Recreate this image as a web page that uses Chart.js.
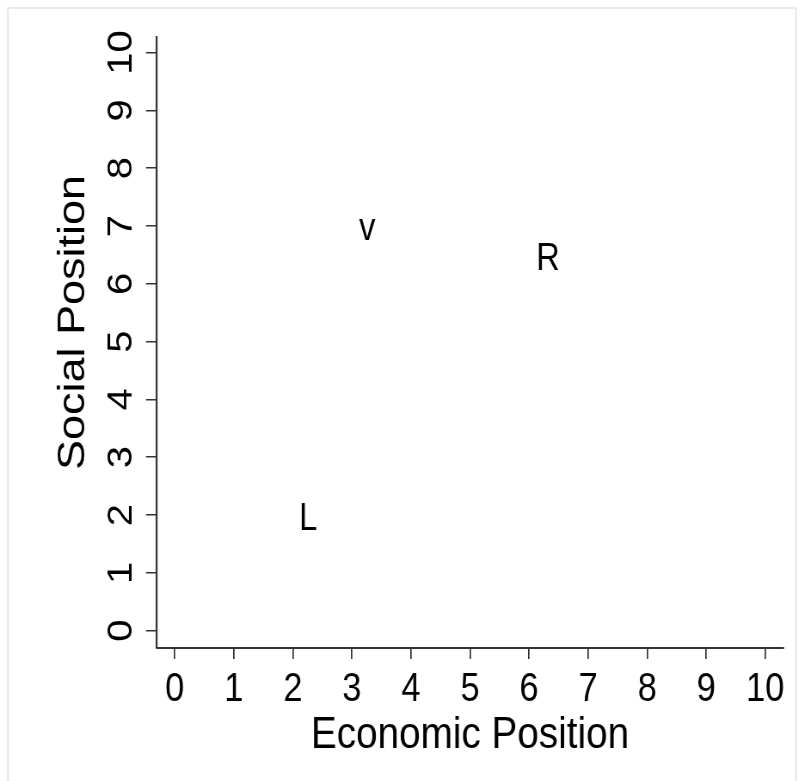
<!DOCTYPE html>
<html><head><meta charset="utf-8">
<script src="https://cdn.jsdelivr.net/npm/chart.js@4.4.1/dist/chart.umd.min.js"></script>
<style>
html,body{margin:0;padding:0;background:#fff;overflow:hidden;width:803px;height:781px;}
#frame{position:absolute;left:7px;top:7px;width:790px;height:790px;border:2px solid #e6edf1;box-sizing:border-box;}
#wrap{position:absolute;left:0;top:0;height:781px;transform-origin:0 0;}
</style></head><body>
<div id="frame"></div>
<div id="wrap"><canvas id="c"></canvas></div>
<script>
// ---- data ----
const pointLabels = ['L', 'v', 'R'];
const economicPosition = [2.26, 3.26, 6.32];
const socialPosition = [1.97, 7.0, 6.48];
const tickValues = [0, 1, 2, 3, 4, 5, 6, 7, 8, 9, 10];
const xTitle = 'Economic Position';
const yTitle = 'Social Position';

// ---- layout / style ----
const S = 0.86;                // horizontal squash of the whole picture
const W = Math.round(803 / S);
const wrap = document.getElementById('wrap');
wrap.style.width = W + 'px';
wrap.style.transform = 'scaleX(' + S + ')';
const FAMILY = "'Liberation Sans', Arial, Helvetica, sans-serif";
const AXIS = '#333333';
const TICK_SIZE = 40, TITLE_SIZE = 45, MARK_SIZE = 38;

const textPlugin = {
  id: 'textMarks',
  afterDatasetsDraw(chart) {
    const ctx = chart.ctx;
    const meta = chart.getDatasetMeta(0);
    ctx.save();
    ctx.fillStyle = '#000';
    ctx.font = MARK_SIZE + 'px ' + FAMILY;
    ctx.textAlign = 'center';
    ctx.textBaseline = 'alphabetic';
    meta.data.forEach((pt, i) => {
      ctx.fillText(pointLabels[i], pt.x, pt.y + 0.358 * MARK_SIZE);
    });
    ctx.restore();
  },
  afterDraw(chart) {
    // y axis title, read bottom-to-top
    const ctx = chart.ctx;
    const area = chart.chartArea;
    ctx.save();
    ctx.fillStyle = '#000';
    ctx.font = TITLE_SIZE + 'px ' + FAMILY;
    ctx.textAlign = 'center';
    ctx.textBaseline = 'middle';
    ctx.translate(74 / S, (area.top + area.bottom) / 2 - 20);
    ctx.rotate(-Math.PI / 2);
    ctx.fillText(yTitle, 0, 0);
    ctx.restore();
  }
};

new Chart(document.getElementById('c'), {
  type: 'scatter',
  data: {
    datasets: [{
      data: economicPosition.map((x, i) => ({ x: x, y: socialPosition[i] })),
      pointRadius: 0, pointHoverRadius: 0
    }]
  },
  options: {
    responsive: true, maintainAspectRatio: false, animation: false, events: [],
    layout: { padding: { left: 0, top: 37, right: W - 783 / S, bottom: 0 } },
    plugins: { legend: { display: false }, tooltip: { enabled: false } },
    scales: {
      x: {
        type: 'linear', min: -0.3, max: 10.3,
        afterBuildTicks: s => { s.ticks = tickValues.map(v => ({ value: v })); },
        afterFit: s => { s.height = 781 - 648; },
        grid: { drawOnChartArea: false, drawTicks: true, tickLength: 11, color: AXIS, lineWidth: 1.7 },
        border: { display: true, color: AXIS, width: 2 },
        ticks: { color: '#000', font: { family: FAMILY, size: TICK_SIZE }, padding: 7, autoSkip: false, maxRotation: 0, minRotation: 0 },
        title: { display: true, text: xTitle, color: '#000', font: { family: FAMILY, size: TITLE_SIZE }, padding: { top: 0, bottom: 18 } }
      },
      y: {
        type: 'linear', min: -0.3, max: 10.27,
        afterBuildTicks: s => { s.ticks = tickValues.map(v => ({ value: v })); },
        afterFit: s => { s.width = 157 / S; },
        grid: { drawOnChartArea: false, drawTicks: true, tickLength: 11 / S, color: AXIS, lineWidth: 1.5 },
        border: { display: true, color: AXIS, width: 2.2 },
        ticks: { color: '#000', font: { family: FAMILY, size: TICK_SIZE }, padding: 6, autoSkip: false, minRotation: 90, maxRotation: 90, crossAlign: 'center' },
        title: { display: false }
      }
    }
  },
  plugins: [textPlugin]
});
</script>
</body></html>
